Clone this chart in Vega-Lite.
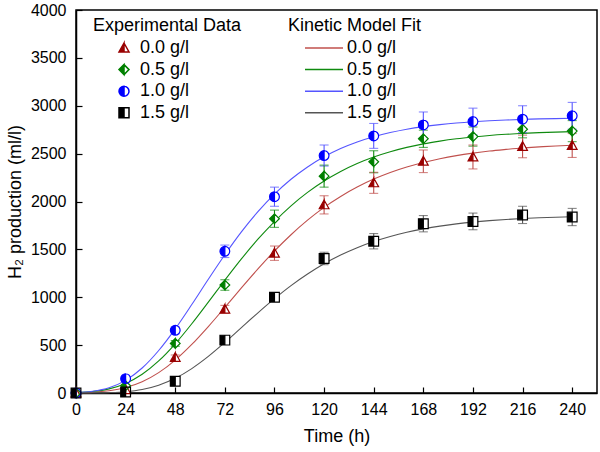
{
  "$schema": "https://vega.github.io/schema/vega-lite/v6.json",
  "width": 521,
  "height": 383,
  "autosize": "none",
  "padding": {"left": 76, "top": 10, "right": 3, "bottom": 59},
  "background": "white",
  "config": {
    "font": "Liberation Sans",
    "view": {"stroke": "black", "strokeWidth": 1.5},
    "axis": {
      "grid": false,
      "domainColor": "black",
      "domainWidth": 1.5,
      "tickColor": "black",
      "tickWidth": 1.2,
      "labelColor": "black",
      "labelFont": "Liberation Sans",
      "labelFontSize": 16,
      "titleFont": "Liberation Sans",
      "titleFontSize": 18,
      "titleFontWeight": "normal",
      "titleColor": "black",
      "labelFlush": false,
      "labelOverlap": false
    },
    "legend": {
      "orient": "none",
      "padding": 0,
      "titleFont": "Liberation Sans",
      "titleFontSize": 18,
      "titleFontWeight": "normal",
      "titleColor": "black",
      "labelFont": "Liberation Sans",
      "labelFontSize": 18,
      "labelColor": "black",
      "titlePadding": 4,
      "rowPadding": 3.6,
      "symbolSize": 100
    }
  },
  "datasets": {
    "exp": [
      {"t": 0, "h": 0, "e": 0, "conc": "0.0 g/l"},
      {"t": 24, "h": 35, "e": 10, "conc": "0.0 g/l"},
      {"t": 48, "h": 372, "e": 25, "conc": "0.0 g/l"},
      {"t": 72, "h": 875, "e": 40, "conc": "0.0 g/l"},
      {"t": 96, "h": 1460, "e": 75, "conc": "0.0 g/l"},
      {"t": 120, "h": 1965, "e": 95, "conc": "0.0 g/l"},
      {"t": 144, "h": 2195, "e": 110, "conc": "0.0 g/l"},
      {"t": 168, "h": 2420, "e": 118, "conc": "0.0 g/l"},
      {"t": 192, "h": 2465, "e": 125, "conc": "0.0 g/l"},
      {"t": 216, "h": 2575, "e": 118, "conc": "0.0 g/l"},
      {"t": 240, "h": 2585, "e": 125, "conc": "0.0 g/l"},
      {"t": 0, "h": 0, "e": 0, "conc": "0.5 g/l"},
      {"t": 24, "h": 75, "e": 15, "conc": "0.5 g/l"},
      {"t": 48, "h": 518, "e": 30, "conc": "0.5 g/l"},
      {"t": 72, "h": 1128, "e": 55, "conc": "0.5 g/l"},
      {"t": 96, "h": 1820, "e": 90, "conc": "0.5 g/l"},
      {"t": 120, "h": 2265, "e": 115, "conc": "0.5 g/l"},
      {"t": 144, "h": 2415, "e": 115, "conc": "0.5 g/l"},
      {"t": 168, "h": 2655, "e": 90, "conc": "0.5 g/l"},
      {"t": 192, "h": 2678, "e": 100, "conc": "0.5 g/l"},
      {"t": 216, "h": 2755, "e": 90, "conc": "0.5 g/l"},
      {"t": 240, "h": 2735, "e": 110, "conc": "0.5 g/l"},
      {"t": 0, "h": 0, "e": 0, "conc": "1.0 g/l"},
      {"t": 24, "h": 150, "e": 20, "conc": "1.0 g/l"},
      {"t": 48, "h": 655, "e": 35, "conc": "1.0 g/l"},
      {"t": 72, "h": 1480, "e": 65, "conc": "1.0 g/l"},
      {"t": 96, "h": 2050, "e": 100, "conc": "1.0 g/l"},
      {"t": 120, "h": 2480, "e": 110, "conc": "1.0 g/l"},
      {"t": 144, "h": 2685, "e": 130, "conc": "1.0 g/l"},
      {"t": 168, "h": 2800, "e": 135, "conc": "1.0 g/l"},
      {"t": 192, "h": 2835, "e": 140, "conc": "1.0 g/l"},
      {"t": 216, "h": 2860, "e": 140, "conc": "1.0 g/l"},
      {"t": 240, "h": 2895, "e": 140, "conc": "1.0 g/l"},
      {"t": 0, "h": 0, "e": 0, "conc": "1.5 g/l"},
      {"t": 24, "h": 10, "e": 5, "conc": "1.5 g/l"},
      {"t": 48, "h": 122, "e": 20, "conc": "1.5 g/l"},
      {"t": 72, "h": 552, "e": 30, "conc": "1.5 g/l"},
      {"t": 96, "h": 1000, "e": 40, "conc": "1.5 g/l"},
      {"t": 120, "h": 1405, "e": 65, "conc": "1.5 g/l"},
      {"t": 144, "h": 1585, "e": 80, "conc": "1.5 g/l"},
      {"t": 168, "h": 1768, "e": 85, "conc": "1.5 g/l"},
      {"t": 192, "h": 1792, "e": 87, "conc": "1.5 g/l"},
      {"t": 216, "h": 1860, "e": 90, "conc": "1.5 g/l"},
      {"t": 240, "h": 1838, "e": 90, "conc": "1.5 g/l"}
    ],
    "fit": [
      {"t": 0, "h": 2, "fit": "0.0 g/l"}, {"t": 8, "h": 7, "fit": "0.0 g/l"}, {"t": 16, "h": 23, "fit": "0.0 g/l"}, {"t": 24, "h": 57, "fit": "0.0 g/l"},
      {"t": 32, "h": 118, "fit": "0.0 g/l"}, {"t": 40, "h": 213, "fit": "0.0 g/l"}, {"t": 48, "h": 344, "fit": "0.0 g/l"}, {"t": 56, "h": 507, "fit": "0.0 g/l"},
      {"t": 64, "h": 694, "fit": "0.0 g/l"}, {"t": 72, "h": 894, "fit": "0.0 g/l"}, {"t": 80, "h": 1098, "fit": "0.0 g/l"}, {"t": 88, "h": 1296, "fit": "0.0 g/l"},
      {"t": 96, "h": 1483, "fit": "0.0 g/l"}, {"t": 104, "h": 1653, "fit": "0.0 g/l"}, {"t": 112, "h": 1805, "fit": "0.0 g/l"}, {"t": 120, "h": 1939, "fit": "0.0 g/l"},
      {"t": 128, "h": 2053, "fit": "0.0 g/l"}, {"t": 136, "h": 2151, "fit": "0.0 g/l"}, {"t": 144, "h": 2234, "fit": "0.0 g/l"}, {"t": 152, "h": 2303, "fit": "0.0 g/l"},
      {"t": 160, "h": 2360, "fit": "0.0 g/l"}, {"t": 168, "h": 2408, "fit": "0.0 g/l"}, {"t": 176, "h": 2447, "fit": "0.0 g/l"}, {"t": 184, "h": 2479, "fit": "0.0 g/l"},
      {"t": 192, "h": 2505, "fit": "0.0 g/l"}, {"t": 200, "h": 2527, "fit": "0.0 g/l"}, {"t": 208, "h": 2544, "fit": "0.0 g/l"}, {"t": 216, "h": 2559, "fit": "0.0 g/l"},
      {"t": 224, "h": 2570, "fit": "0.0 g/l"}, {"t": 232, "h": 2580, "fit": "0.0 g/l"}, {"t": 240, "h": 2587, "fit": "0.0 g/l"},
      {"t": 0, "h": 4, "fit": "0.5 g/l"}, {"t": 8, "h": 15, "fit": "0.5 g/l"}, {"t": 16, "h": 43, "fit": "0.5 g/l"}, {"t": 24, "h": 100, "fit": "0.5 g/l"},
      {"t": 32, "h": 196, "fit": "0.5 g/l"}, {"t": 40, "h": 335, "fit": "0.5 g/l"}, {"t": 48, "h": 514, "fit": "0.5 g/l"}, {"t": 56, "h": 723, "fit": "0.5 g/l"},
      {"t": 64, "h": 949, "fit": "0.5 g/l"}, {"t": 72, "h": 1178, "fit": "0.5 g/l"}, {"t": 80, "h": 1400, "fit": "0.5 g/l"}, {"t": 88, "h": 1606, "fit": "0.5 g/l"},
      {"t": 96, "h": 1791, "fit": "0.5 g/l"}, {"t": 104, "h": 1955, "fit": "0.5 g/l"}, {"t": 112, "h": 2095, "fit": "0.5 g/l"}, {"t": 120, "h": 2214, "fit": "0.5 g/l"},
      {"t": 128, "h": 2314, "fit": "0.5 g/l"}, {"t": 136, "h": 2397, "fit": "0.5 g/l"}, {"t": 144, "h": 2465, "fit": "0.5 g/l"}, {"t": 152, "h": 2520, "fit": "0.5 g/l"},
      {"t": 160, "h": 2565, "fit": "0.5 g/l"}, {"t": 168, "h": 2602, "fit": "0.5 g/l"}, {"t": 176, "h": 2631, "fit": "0.5 g/l"}, {"t": 184, "h": 2655, "fit": "0.5 g/l"},
      {"t": 192, "h": 2674, "fit": "0.5 g/l"}, {"t": 200, "h": 2690, "fit": "0.5 g/l"}, {"t": 208, "h": 2702, "fit": "0.5 g/l"}, {"t": 216, "h": 2711, "fit": "0.5 g/l"},
      {"t": 224, "h": 2719, "fit": "0.5 g/l"}, {"t": 232, "h": 2725, "fit": "0.5 g/l"}, {"t": 240, "h": 2730, "fit": "0.5 g/l"},
      {"t": 0, "h": 4, "fit": "1.0 g/l"}, {"t": 8, "h": 18, "fit": "1.0 g/l"}, {"t": 16, "h": 55, "fit": "1.0 g/l"}, {"t": 24, "h": 132, "fit": "1.0 g/l"},
      {"t": 32, "h": 261, "fit": "1.0 g/l"}, {"t": 40, "h": 444, "fit": "1.0 g/l"}, {"t": 48, "h": 670, "fit": "1.0 g/l"}, {"t": 56, "h": 924, "fit": "1.0 g/l"},
      {"t": 64, "h": 1188, "fit": "1.0 g/l"}, {"t": 72, "h": 1444, "fit": "1.0 g/l"}, {"t": 80, "h": 1682, "fit": "1.0 g/l"}, {"t": 88, "h": 1894, "fit": "1.0 g/l"},
      {"t": 96, "h": 2077, "fit": "1.0 g/l"}, {"t": 104, "h": 2232, "fit": "1.0 g/l"}, {"t": 112, "h": 2361, "fit": "1.0 g/l"}, {"t": 120, "h": 2467, "fit": "1.0 g/l"},
      {"t": 128, "h": 2553, "fit": "1.0 g/l"}, {"t": 136, "h": 2622, "fit": "1.0 g/l"}, {"t": 144, "h": 2676, "fit": "1.0 g/l"}, {"t": 152, "h": 2720, "fit": "1.0 g/l"},
      {"t": 160, "h": 2755, "fit": "1.0 g/l"}, {"t": 168, "h": 2782, "fit": "1.0 g/l"}, {"t": 176, "h": 2803, "fit": "1.0 g/l"}, {"t": 184, "h": 2820, "fit": "1.0 g/l"},
      {"t": 192, "h": 2833, "fit": "1.0 g/l"}, {"t": 200, "h": 2843, "fit": "1.0 g/l"}, {"t": 208, "h": 2851, "fit": "1.0 g/l"}, {"t": 216, "h": 2858, "fit": "1.0 g/l"},
      {"t": 224, "h": 2863, "fit": "1.0 g/l"}, {"t": 232, "h": 2866, "fit": "1.0 g/l"}, {"t": 240, "h": 2869, "fit": "1.0 g/l"},
      {"t": 0, "h": 0, "fit": "1.5 g/l"}, {"t": 8, "h": 1, "fit": "1.5 g/l"}, {"t": 16, "h": 4, "fit": "1.5 g/l"}, {"t": 24, "h": 13, "fit": "1.5 g/l"},
      {"t": 32, "h": 36, "fit": "1.5 g/l"}, {"t": 40, "h": 81, "fit": "1.5 g/l"}, {"t": 48, "h": 153, "fit": "1.5 g/l"}, {"t": 56, "h": 255, "fit": "1.5 g/l"},
      {"t": 64, "h": 382, "fit": "1.5 g/l"}, {"t": 72, "h": 528, "fit": "1.5 g/l"}, {"t": 80, "h": 683, "fit": "1.5 g/l"}, {"t": 88, "h": 837, "fit": "1.5 g/l"},
      {"t": 96, "h": 985, "fit": "1.5 g/l"}, {"t": 104, "h": 1122, "fit": "1.5 g/l"}, {"t": 112, "h": 1243, "fit": "1.5 g/l"}, {"t": 120, "h": 1350, "fit": "1.5 g/l"},
      {"t": 128, "h": 1441, "fit": "1.5 g/l"}, {"t": 136, "h": 1518, "fit": "1.5 g/l"}, {"t": 144, "h": 1582, "fit": "1.5 g/l"}, {"t": 152, "h": 1635, "fit": "1.5 g/l"},
      {"t": 160, "h": 1679, "fit": "1.5 g/l"}, {"t": 168, "h": 1714, "fit": "1.5 g/l"}, {"t": 176, "h": 1743, "fit": "1.5 g/l"}, {"t": 184, "h": 1766, "fit": "1.5 g/l"},
      {"t": 192, "h": 1785, "fit": "1.5 g/l"}, {"t": 200, "h": 1800, "fit": "1.5 g/l"}, {"t": 208, "h": 1812, "fit": "1.5 g/l"}, {"t": 216, "h": 1822, "fit": "1.5 g/l"},
      {"t": 224, "h": 1830, "fit": "1.5 g/l"}, {"t": 232, "h": 1836, "fit": "1.5 g/l"}, {"t": 240, "h": 1841, "fit": "1.5 g/l"}
    ]
  },
  "layer": [
    {
      "data": {"name": "fit"},
      "mark": {"type": "line", "interpolate": "monotone", "strokeWidth": 1.1},
      "encoding": {
        "x": {
          "field": "t", "type": "quantitative", "title": "Time (h)",
          "scale": {"domain": [0, 252], "nice": false, "zero": false},
          "axis": {
            "title": "Time (h)",
            "values": [0, 12, 24, 36, 48, 60, 72, 84, 96, 108, 120, 132, 144, 156, 168, 180, 192, 204, 216, 228, 240],
            "format": "d",
            "labelExpr": "datum.value % 24 === 0 ? datum.label : ''",
            "tickSize": {"condition": {"test": "datum.value % 24 === 0", "value": -6}, "value": -3},
            "labelPadding": 14,
            "titlePadding": 10
          }
        },
        "y": {
          "field": "h", "type": "quantitative", "title": "H₂ production (ml/l)",
          "scale": {"domain": [0, 4000], "nice": false},
          "axis": {
            "title": "H₂ production (ml/l)",
            "values": [0, 250, 500, 750, 1000, 1250, 1500, 1750, 2000, 2250, 2500, 2750, 3000, 3250, 3500, 3750, 4000],
            "format": "d",
            "labelExpr": "datum.value % 500 === 0 ? datum.label : ''",
            "tickSize": {"condition": {"test": "datum.value % 500 === 0", "value": -6}, "value": -3},
            "labelPadding": 16,
            "titlePadding": 6
          }
        },
        "color": {
          "field": "fit", "type": "nominal",
          "scale": {"range": ["#c0504d", "#0f8a0f", "#5555ff", "#555555"]},
          "legend": {
            "title": "Kinetic Model Fit",
            "orient": "none",
            "legendX": 212,
            "legendY": 7,
            "symbolType": "M-3.8,0L3.8,0",
            "symbolStrokeWidth": 1.5,
            "symbolOffset": 27,
            "labelOffset": 14
          }
        },
        "strokeWidth": {"condition": {"test": "datum.fit === '0.5 g/l'", "value": 1.6}, "value": 1.1}
      }
    },
    {
      "data": {"name": "exp"},
      "mark": {"type": "errorbar", "ticks": {"size": 9}, "thickness": 1.1},
      "encoding": {
        "x": {"field": "t", "type": "quantitative", "title": "Time (h)"},
        "y": {"field": "h", "type": "quantitative", "title": "H₂ production (ml/l)"},
        "yError": {"field": "e"},
        "color": {"field": "conc", "type": "nominal", "legend": null}
      }
    },
    {
      "data": {"name": "exp"},
      "mark": {"type": "point", "filled": true, "fill": "white", "strokeWidth": 0, "opacity": 1, "size": 95},
      "encoding": {
        "x": {"field": "t", "type": "quantitative", "title": "Time (h)"},
        "y": {"field": "h", "type": "quantitative", "title": "H₂ production (ml/l)"},
        "shape": {
          "condition": [
            {"test": "datum.conc === '0.0 g/l'", "value": "M0,-1L1,0.8L-1,0.8Z"},
            {"test": "datum.conc === '0.5 g/l'", "value": "M0,-1L1,0L0,1L-1,0Z"},
            {"test": "datum.conc === '1.5 g/l'", "value": "M-1,-1L1,-1L1,1L-1,1Z"}
          ],
          "value": "circle"
        }
      }
    },
    {
      "data": {"name": "exp"},
      "mark": {"type": "point", "filled": true, "opacity": 1, "strokeWidth": 1.2, "size": 95},
      "encoding": {
        "x": {"field": "t", "type": "quantitative", "title": "Time (h)"},
        "y": {"field": "h", "type": "quantitative", "title": "H₂ production (ml/l)"},
        "fill": {
          "field": "conc", "type": "nominal",
          "scale": {"range": ["#990000", "#008000", "#0000ff", "#000000"]},
          "legend": {"title": "Experimental Data", "orient": "none", "legendX": 17, "legendY": 7, "symbolOffset": 22, "labelOffset": 7}
        },
        "stroke": {
          "field": "conc", "type": "nominal",
          "scale": {"range": ["#990000", "#008000", "#0000ff", "#000000"]},
          "legend": {"title": "Experimental Data", "orient": "none", "legendX": 17, "legendY": 7, "symbolOffset": 22, "labelOffset": 7}
        },
        "shape": {
          "field": "conc", "type": "nominal",
          "scale": {"range": [
            "M0,-1L-1,0.8L0,0.8ZM0,-1L1,0.8L0,0.8L1,0.8Z",
            "M0,-1L-1,0L0,1ZM0,-1L1,0L0,1L1,0Z",
            "M0,-1A1,1,0,0,0,0,1ZM0,-1A1,1,0,0,1,0,1A1,1,0,0,0,0,-1Z",
            "M0,-1L-1,-1L-1,1L0,1ZM0,-1L1,-1L1,1L0,1L1,1L1,-1Z"
          ]},
          "legend": {"title": "Experimental Data", "orient": "none", "legendX": 17, "legendY": 7, "symbolOffset": 22, "labelOffset": 7}
        }
      }
    }
  ]
}
